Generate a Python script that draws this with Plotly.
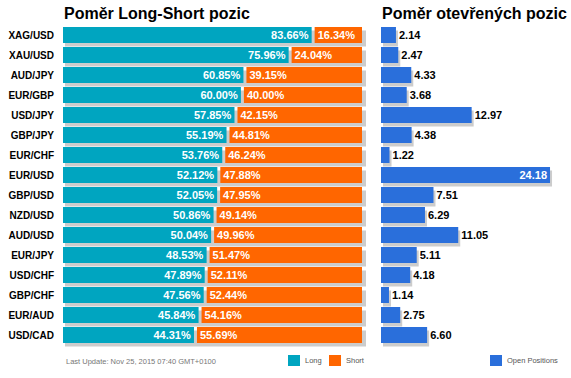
import plotly.graph_objects as go

pairs = ["XAG/USD", "XAU/USD", "AUD/JPY", "EUR/GBP", "USD/JPY", "GBP/JPY", "EUR/CHF", "EUR/USD",
         "GBP/USD", "NZD/USD", "AUD/USD", "EUR/JPY", "USD/CHF", "GBP/CHF", "EUR/AUD", "USD/CAD"]
long_pct = [83.66, 75.96, 60.85, 60.00, 57.85, 55.19, 53.76, 52.12, 52.05, 50.86, 50.04, 48.53, 47.89, 47.56, 45.84, 44.31]
short_pct = [16.34, 24.04, 39.15, 40.00, 42.15, 44.81, 46.24, 47.88, 47.95, 49.14, 49.96, 51.47, 52.11, 52.44, 54.16, 55.69]
open_pos = [2.14, 2.47, 4.33, 3.68, 12.97, 4.38, 1.22, 24.18, 7.51, 6.29, 11.05, 5.11, 4.18, 1.14, 2.75, 6.60]

W, H = 571, 378
LONG_C = "#00A5C0"
SHORT_C = "#FF6600"
OPEN_C = "#2A6FDB"
SHADOW_C = "#CCCCCC"
FONT = "Arial, Liberation Sans, sans-serif"

def px_x(p):
    return p / W

def px_y(p):
    return 1 - p / H

gap = 0.5  # half gap between long and short, in % units
total = [l + s for l, s in zip(long_pct, short_pct)]

fig = go.Figure()

# shadows (drawn first, on lower subplots)
fig.add_trace(go.Bar(y=pairs, x=total, orientation="h", xaxis="x", yaxis="y",
                     marker=dict(color=SHADOW_C, line=dict(width=0)), width=0.8,
                     showlegend=False, hoverinfo="skip"))
fig.add_trace(go.Bar(y=pairs, x=open_pos, orientation="h", xaxis="x2", yaxis="y",
                     marker=dict(color=SHADOW_C, line=dict(width=0)), width=0.8,
                     showlegend=False, hoverinfo="skip"))

# main bars
fig.add_trace(go.Bar(y=pairs, x=[l - gap for l in long_pct], base=0, orientation="h",
                     xaxis="x3", yaxis="y2", name="Long", showlegend=False,
                     marker=dict(color=LONG_C, line=dict(width=0)), width=0.8,
                     text=[f"{v:.2f}%" for v in long_pct], textposition="inside",
                     insidetextanchor="end", textangle=0, constraintext="none",
                     textfont=dict(family=FONT, size=11, color="white", weight="bold")))
fig.add_trace(go.Bar(y=pairs, x=[s - gap for s in short_pct], base=[l + gap for l in long_pct],
                     orientation="h", xaxis="x3", yaxis="y2", name="Short", showlegend=False,
                     marker=dict(color=SHORT_C, line=dict(width=0)), width=0.8,
                     text=[f"{v:.2f}%" for v in short_pct], textposition="inside",
                     insidetextanchor="start", textangle=0, constraintext="none",
                     textfont=dict(family=FONT, size=11, color="white", weight="bold")))
fig.add_trace(go.Bar(y=pairs, x=open_pos, orientation="h", xaxis="x4", yaxis="y2",
                     name="Open Positions", showlegend=False,
                     marker=dict(color=OPEN_C, line=dict(width=0)), width=0.8,
                     text=[f"{v:.2f}" for v in open_pos],
                     textposition=["inside" if v > 20 else "outside" for v in open_pos],
                     insidetextanchor="end", textangle=0, cliponaxis=False, constraintext="none",
                     insidetextfont=dict(family=FONT, size=11, color="white", weight="bold"),
                     outsidetextfont=dict(family=FONT, size=11, color="black", weight="bold")))

ydom_main = [px_y(345), px_y(25)]
ydom_shadow = [px_y(348.5), px_y(28.5)]
hidden = dict(showgrid=False, zeroline=False, showticklabels=False, showline=False, ticks="")

# manual legend (swatch left px, label)
legend_items = [(288, "Long", LONG_C), (329, "Short", SHORT_C), (490, "Open Positions", OPEN_C)]
shapes = []
annotations = [
    dict(text="<b>Poměr Long-Short pozic</b>", x=px_x(62), y=px_y(14), xref="paper", yref="paper",
         xanchor="left", yanchor="middle", showarrow=False,
         font=dict(family=FONT, size=16, color="black")),
    dict(text="<b>Poměr otevřených pozic</b>", x=px_x(380), y=px_y(14), xref="paper", yref="paper",
         xanchor="left", yanchor="middle", showarrow=False,
         font=dict(family=FONT, size=16, color="black")),
    dict(text="Last Update: Nov 25, 2015 07:40 GMT+0100", x=px_x(64), y=px_y(361),
         xref="paper", yref="paper", xanchor="left", yanchor="middle", showarrow=False,
         font=dict(family=FONT, size=7.5, color="#777777")),
]
for x0, label, col in legend_items:
    shapes.append(dict(type="rect", xref="paper", yref="paper", x0=px_x(x0), x1=px_x(x0 + 12),
                       y0=px_y(366), y1=px_y(355), fillcolor=col, line=dict(width=0)))
    annotations.append(dict(text=label, x=px_x(x0 + 15), y=px_y(360.5), xref="paper", yref="paper",
                            xanchor="left", yanchor="middle", showarrow=False,
                            font=dict(family=FONT, size=7.5, color="#555555")))

fig.update_layout(
    width=W, height=H,
    margin=dict(l=0, r=0, t=0, b=0),
    paper_bgcolor="white", plot_bgcolor="rgba(0,0,0,0)",
    barmode="overlay", showlegend=False,
    font=dict(family=FONT),
    xaxis=dict(domain=[px_x(65), px_x(366)], range=[0, 100], anchor="y", fixedrange=True, **hidden),
    xaxis2=dict(domain=[px_x(383), px_x(383 + 174.75)], range=[0, 25], anchor="y", fixedrange=True, **hidden),
    xaxis3=dict(domain=[px_x(63), px_x(362)], range=[0, 100], anchor="y2", fixedrange=True, **hidden),
    xaxis4=dict(domain=[px_x(381), px_x(381 + 174.75)], range=[0, 25], anchor="y2", fixedrange=True, **hidden),
    yaxis=dict(domain=ydom_shadow, categoryorder="array", categoryarray=pairs,
               autorange="reversed", anchor="x", fixedrange=True, **hidden),
    yaxis2=dict(domain=ydom_main, categoryorder="array", categoryarray=pairs,
                autorange="reversed", anchor="x3", showgrid=False, zeroline=False,
                showline=False, ticks="outside", ticklen=6, tickcolor="rgba(0,0,0,0)",
                automargin=False, fixedrange=True,
                tickfont=dict(family=FONT, size=10, color="black", weight="bold")),
    shapes=shapes,
    annotations=annotations,
)

fig.write_html("out.html", config={"displayModeBar": False},
               post_script="document.body.style.margin='0';")
